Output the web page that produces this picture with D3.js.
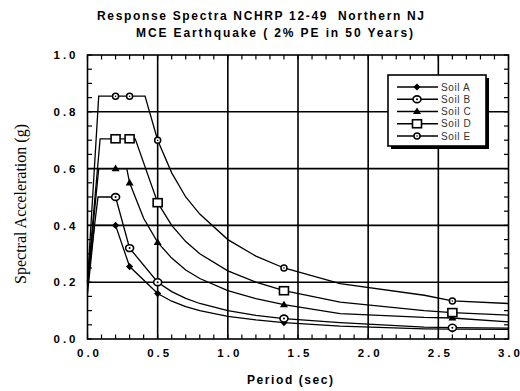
<!DOCTYPE html>
<html>
<head>
<meta charset="utf-8">
<script src="https://cdn.jsdelivr.net/npm/d3@7"></script>
<style>
  html, body { margin: 0; padding: 0; background: #fff; }
  svg { display: block; }
  text { white-space: pre; }
</style>
</head>
<body>
<svg id="chart" width="520" height="391"></svg>
<script>
// ---- Data ----
const soilNames = ["Soil A", "Soil B", "Soil C", "Soil D", "Soil E"];

const periodsA = [0, 0.05, 0.2, 0.3, 0.5, 0.6, 0.7, 0.8, 1.0, 1.2, 1.4, 1.8, 2.4, 2.6, 3.0];
const valuesA  = [0.16, 0.40, 0.40, 0.255, 0.16, 0.133, 0.114, 0.10, 0.08, 0.067, 0.058, 0.045, 0.036, 0.035, 0.034];

const periodsB = [0, 0.075, 0.2, 0.3, 0.5, 0.6, 0.7, 0.8, 1.0, 1.2, 1.4, 1.8, 2.4, 2.6, 3.0];
const valuesB  = [0.20, 0.50, 0.50, 0.32, 0.20, 0.167, 0.143, 0.125, 0.10, 0.083, 0.072, 0.058, 0.042, 0.040, 0.038];

const periodsC = [0, 0.08, 0.2, 0.28, 0.3, 0.4, 0.5, 0.6, 0.7, 0.8, 1.0, 1.2, 1.4, 1.8, 2.4, 2.6, 3.0];
const valuesC  = [0.20, 0.60, 0.60, 0.60, 0.55, 0.425, 0.34, 0.285, 0.243, 0.213, 0.17, 0.142, 0.121, 0.089, 0.076, 0.074, 0.060];

const periodsD = [0, 0.09, 0.2, 0.3, 0.34, 0.5, 0.6, 0.7, 0.8, 1.0, 1.2, 1.4, 1.8, 2.4, 2.6, 3.0];
const valuesD  = [0.20, 0.705, 0.705, 0.705, 0.705, 0.48, 0.40, 0.343, 0.30, 0.24, 0.20, 0.17, 0.13, 0.10, 0.093, 0.084];

const periodsE = [0, 0.08, 0.2, 0.3, 0.41, 0.5, 0.6, 0.7, 0.8, 1.0, 1.2, 1.4, 1.8, 2.4, 2.6, 3.0];
const valuesE  = [0.20, 0.855, 0.855, 0.855, 0.855, 0.70, 0.585, 0.50, 0.44, 0.35, 0.292, 0.25, 0.195, 0.154, 0.134, 0.125];

const markerPeriods = [0.2, 0.3, 0.5, 1.4, 2.6];
const markerShapes = ["diamond", "circleDot", "triangle", "square", "smallCircle"];

const xTickLabels = ["0.0", "0.5", "1.0", "1.5", "2.0", "2.5", "3.0"];
const yTickLabels = ["0.0", "0.2", "0.4", "0.6", "0.8", "1.0"];

const titleLines = ["Response Spectra NCHRP 12-49  Northern NJ", "MCE Earthquake ( 2% PE in 50 Years)"];
const xTitle = "Period (sec)";
const yTitle = "Spectral Acceleration (g)";

// ---- Build series ----
const series = [
  {name: soilNames[0], p: periodsA, v: valuesA, shape: markerShapes[0]},
  {name: soilNames[1], p: periodsB, v: valuesB, shape: markerShapes[1]},
  {name: soilNames[2], p: periodsC, v: valuesC, shape: markerShapes[2]},
  {name: soilNames[3], p: periodsD, v: valuesD, shape: markerShapes[3]},
  {name: soilNames[4], p: periodsE, v: valuesE, shape: markerShapes[4]}
].map(s => ({...s, pts: s.p.map((t, i) => [t, s.v[i]])}));

// ---- Layout ----
const L = 87.5, R = 508.5, T = 55, B = 339;
const svg = d3.select("#chart");
const x = d3.scaleLinear().domain([0, 3]).range([L, R]);
const y = d3.scaleLinear().domain([0, 1]).range([B, T]);

const FONT = "'Liberation Sans', Arial, Helvetica, sans-serif";

// Minor ticks (inside, all four sides)
const xMinor = d3.range(0, 3.0001, 0.1);
const yMinor = d3.range(0, 1.0001, 0.05);
const tl = 4.5;
const g = svg.append("g").attr("stroke", "#000").attr("stroke-width", 1.2);
g.selectAll(".xb").data(xMinor).join("line")
  .attr("x1", d => x(d)).attr("x2", d => x(d)).attr("y1", B).attr("y2", B - tl);
g.selectAll(".xt").data(xMinor).join("line")
  .attr("class","xt")
  .attr("x1", d => x(d)).attr("x2", d => x(d)).attr("y1", T).attr("y2", T + tl);
g.selectAll(".yl").data(yMinor).join("line")
  .attr("class","yl")
  .attr("x1", L).attr("x2", L + tl).attr("y1", d => y(d)).attr("y2", d => y(d));
g.selectAll(".yr").data(yMinor).join("line")
  .attr("class","yr")
  .attr("x1", R).attr("x2", R - tl).attr("y1", d => y(d)).attr("y2", d => y(d));

// Major grid
const xMajor = xTickLabels.map(Number);
const yMajor = yTickLabels.map(Number);
const grid = svg.append("g").attr("stroke", "#000").attr("stroke-width", 1.6);
grid.selectAll(".gx").data(xMajor.slice(1, -1)).join("line")
  .attr("class","gx")
  .attr("x1", d => x(d)).attr("x2", d => x(d)).attr("y1", T).attr("y2", B);
grid.selectAll(".gy").data(yMajor.slice(1, -1)).join("line")
  .attr("class","gy")
  .attr("x1", L).attr("x2", R).attr("y1", d => y(d)).attr("y2", d => y(d));

// Frame
svg.append("rect").attr("x", L).attr("y", T).attr("width", R - L).attr("height", B - T)
  .attr("fill", "none").attr("stroke", "#000").attr("stroke-width", 1.6);

// Axes via d3 axis (labels only)
const xAxis = svg.append("g").attr("transform", `translate(0,${B})`)
  .call(d3.axisBottom(x).tickValues(xMajor).tickFormat((d, i) => xTickLabels[i]).tickSize(0).tickPadding(10));
const yAxis = svg.append("g").attr("transform", `translate(${L},0)`)
  .call(d3.axisLeft(y).tickValues(yMajor).tickFormat((d, i) => yTickLabels[i]).tickSize(0).tickPadding(12));
[xAxis, yAxis].forEach(a => {
  a.select(".domain").remove();
  a.selectAll("text").attr("font-family", FONT).attr("font-weight", "bold")
    .attr("font-size", 11.5).attr("fill", "#000")
    .attr("textLength", 22).attr("lengthAdjust", "spacing");
});

// Lines
const line = d3.line().x(d => x(d[0])).y(d => y(d[1]));
const plot = svg.append("g");
plot.selectAll(".series").data(series).join("path")
  .attr("d", s => line(s.pts))
  .attr("fill", "none").attr("stroke", "#000").attr("stroke-width", 1.3);

// Marker drawing
function drawMarker(sel, shape) {
  if (shape === "diamond") {
    sel.append("path").attr("d", "M0,-3.6L3.6,0L0,3.6L-3.6,0Z").attr("fill", "#000");
  } else if (shape === "circleDot") {
    sel.append("ellipse").attr("rx", 4).attr("ry", 3.4).attr("fill", "#fff")
      .attr("stroke", "#000").attr("stroke-width", 1.6);
    sel.append("circle").attr("r", 1).attr("fill", "#000");
  } else if (shape === "triangle") {
    sel.append("path").attr("d", "M0,-4L4,2.6L-4,2.6Z").attr("fill", "#000");
  } else if (shape === "square") {
    sel.append("rect").attr("x", -4.5).attr("y", -4).attr("width", 9).attr("height", 8)
      .attr("fill", "#fff").attr("stroke", "#000").attr("stroke-width", 1.6);
  } else if (shape === "smallCircle") {
    sel.append("circle").attr("r", 3).attr("fill", "#fff")
      .attr("stroke", "#000").attr("stroke-width", 1.5);
    sel.append("circle").attr("r", 0.8).attr("fill", "#000");
  }
}

series.forEach(s => {
  const mpts = markerPeriods.map(t => s.pts.find(d => Math.abs(d[0] - t) < 1e-9)).filter(Boolean);
  mpts.forEach(d => {
    const m = plot.append("g").attr("transform", `translate(${x(d[0])},${y(d[1])})`);
    drawMarker(m, s.shape);
  });
});

// Legend
const lg = svg.append("g");
const lx = 388, ly = 75, lw = 98, lh = 71;
lg.append("rect").attr("x", lx + 3).attr("y", ly + 3).attr("width", lw).attr("height", lh).attr("fill", "#000");
lg.append("rect").attr("x", lx).attr("y", ly).attr("width", lw).attr("height", lh)
  .attr("fill", "#fff").attr("stroke", "#000").attr("stroke-width", 1.6);
const rowY = d3.scaleLinear().domain([0, 4]).range([ly + 12, ly + 61]);
series.forEach((s, i) => {
  const yy = rowY(i);
  lg.append("line").attr("x1", 397).attr("x2", 438).attr("y1", yy).attr("y2", yy)
    .attr("stroke", "#000").attr("stroke-width", 1.3);
  const m = lg.append("g").attr("transform", `translate(417,${yy})`);
  drawMarker(m, s.shape);
  lg.append("text").attr("x", 441).attr("y", yy + 3.6).text(s.name)
    .attr("font-family", FONT).attr("font-size", 10).attr("fill", "#333")
    .attr("letter-spacing", 0.6);
});

// Titles
svg.append("text").attr("x", 97).attr("y", 20).text(titleLines[0])
  .attr("font-family", FONT).attr("font-weight", "bold").attr("font-size", 12)
  .attr("textLength", 327).attr("lengthAdjust", "spacing");
svg.append("text").attr("x", 136).attr("y", 36.5).text(titleLines[1])
  .attr("font-family", FONT).attr("font-weight", "bold").attr("font-size", 12)
  .attr("textLength", 277).attr("lengthAdjust", "spacing");

svg.append("text").attr("x", 290).attr("y", 384).attr("text-anchor", "middle").text(xTitle)
  .attr("font-family", FONT).attr("font-weight", "bold").attr("font-size", 12)
  .attr("textLength", 86).attr("lengthAdjust", "spacing");

svg.append("text").attr("transform", "translate(26,204) rotate(-90)")
  .attr("text-anchor", "middle").text(yTitle)
  .attr("font-family", "'Liberation Serif', 'Times New Roman', serif").attr("font-size", 16);
</script>
</body>
</html>
